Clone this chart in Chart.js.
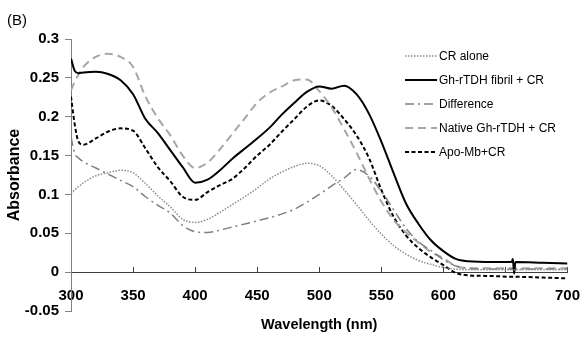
<!DOCTYPE html>
<html>
<head>
<meta charset="utf-8">
<script src="https://cdn.jsdelivr.net/npm/chart.js@4.4.1/dist/chart.umd.min.js"></script>
<style>
  body { margin: 0; background: #fff; }
  #wrap { position: relative; width: 584px; height: 337px; }
  #legend { position: absolute; left: 405px; top: 44px; font: 12px "Liberation Sans", Arial, sans-serif; color: #000; }
  #legend .row { height: 23.9px; display: flex; align-items: center; white-space: nowrap; }
  #legend svg { margin-right: 2px; }
</style>
</head>
<body>
<div id="wrap">
  <canvas id="chart" width="584" height="337"></canvas>
  <div id="legend"></div>
</div>
<script>
// wavelength grid (nm) shared by all spectra
const wavelengths = [300, 303, 306, 310, 320, 330, 340, 350, 360, 370, 380, 390, 400, 410, 420, 430, 440, 450, 460, 470, 480, 490,
  500, 510, 520, 530, 540, 550, 560, 570, 580, 590, 600, 610, 620, 640, 655, 656, 657, 658, 680, 700];

// absorbance values
const crAlone = [0.101, 0.106, 0.110, 0.115, 0.124, 0.128, 0.131, 0.128, 0.114, 0.098, 0.084, 0.068, 0.064, 0.068, 0.077, 0.087, 0.097, 0.108, 0.120, 0.129, 0.136, 0.140,
  0.137, 0.124, 0.106, 0.087, 0.067, 0.049, 0.034, 0.023, 0.015, 0.010, 0.006, 0.004, 0.003, 0.003, 0.003, 0.003, 0.003, 0.003, 0.003, 0.003];
const fibrilCR = [0.275, 0.259, 0.256, 0.257, 0.258, 0.255, 0.247, 0.229, 0.197, 0.179, 0.157, 0.135, 0.115, 0.119, 0.131, 0.146, 0.159, 0.172, 0.186, 0.203, 0.218, 0.232,
  0.239, 0.236, 0.240, 0.229, 0.204, 0.168, 0.127, 0.088, 0.062, 0.041, 0.027, 0.017, 0.014, 0.013, 0.013, 0.017, -0.002, 0.013, 0.012, 0.011];
const difference = [0.174, 0.153, 0.147, 0.142, 0.134, 0.126, 0.118, 0.110, 0.097, 0.086, 0.076, 0.060, 0.052, 0.051, 0.054, 0.058, 0.062, 0.066, 0.070, 0.075, 0.081, 0.090,
  0.100, 0.111, 0.121, 0.132, 0.124, 0.104, 0.080, 0.056, 0.039, 0.028, 0.016, 0.008, 0.005, 0.004, 0.004, 0.004, 0.004, 0.004, 0.004, 0.004];
const nativeCR = [0.234, 0.245, 0.254, 0.264, 0.277, 0.281, 0.277, 0.264, 0.226, 0.198, 0.176, 0.150, 0.134, 0.141, 0.158, 0.178, 0.198, 0.218, 0.231, 0.239, 0.247, 0.248,
  0.233, 0.212, 0.184, 0.154, 0.121, 0.091, 0.067, 0.051, 0.038, 0.026, 0.018, 0.008, 0.005, 0.005, 0.005, 0.005, 0.005, 0.005, 0.005, 0.005];
const apoMbCR = [0.226, 0.190, 0.168, 0.164, 0.172, 0.181, 0.185, 0.182, 0.159, 0.135, 0.117, 0.097, 0.093, 0.103, 0.112, 0.120, 0.134, 0.150, 0.164, 0.181, 0.197, 0.213,
  0.221, 0.214, 0.197, 0.176, 0.147, 0.106, 0.071, 0.047, 0.031, 0.019, 0.009, -0.001, -0.004, -0.005, -0.006, -0.006, -0.006, -0.006, -0.007, -0.008];

const series = [
  { label: 'CR alone', values: crAlone, color: '#8c8c8c', width: 1.5, dash: [1.5, 1.5] },
  { label: 'Gh-rTDH fibril + CR', values: fibrilCR, color: '#000000', width: 2, dash: [] },
  { label: 'Difference', values: difference, color: '#808080', width: 1.5, dash: [9, 4, 2, 4] },
  { label: 'Native Gh-rTDH + CR', values: nativeCR, color: '#a6a6a6', width: 2, dash: [8, 5] },
  { label: 'Apo-Mb+CR', values: apoMbCR, color: '#000000', width: 2, dash: [4, 2.5] }
];

const fontFamily = '"Liberation Sans", Arial, sans-serif';
const boldFont = { family: fontFamily, weight: 'bold', size: 15 };

const chart = new Chart(document.getElementById('chart'), {
  type: 'line',
  data: {
    datasets: series.map(s => ({
      label: s.label,
      data: wavelengths.map((w, i) => ({ x: w, y: s.values[i] })),
      borderColor: s.color,
      borderWidth: s.width,
      borderDash: s.dash,
      pointRadius: 0,
      fill: false,
      cubicInterpolationMode: 'monotone'
    }))
  },
  options: {
    responsive: false,
    animation: false,
    layout: { padding: { left: 7, right: 0, top: 0, bottom: 0 } },
    plugins: {
      legend: { display: false },
      tooltip: { enabled: false },
      title: {
        display: true,
        text: '(B)',
        align: 'start',
        color: '#000',
        font: { family: fontFamily, size: 15, weight: 'normal' },
        padding: { top: 11.5, bottom: 9.5 }
      },
      subtitle: {
        display: true,
        text: 'Wavelength (nm)',
        position: 'bottom',
        fullSize: false,
        color: '#000',
        font: { family: fontFamily, size: 14.5, weight: 'bold' },
        padding: { top: 5.3, bottom: 3.3 }
      }
    },
    scales: {
      // axis line + labels at y = 0; tickLength only pushes labels down
      x: {
        type: 'linear',
        position: { y: 0 },
        min: 300,
        max: 700,
        afterFit: scale => { scale.height = 0; },
        border: { color: '#404040', width: 1 },
        grid: { display: false, drawTicks: true, tickLength: 11 },
        ticks: { stepSize: 50, color: '#000', font: boldFont, padding: 4, maxRotation: 0 }
      },
      // second x axis only for the small tick marks pointing up
      xTicks: {
        type: 'linear',
        axis: 'x',
        position: { y: 0 },
        min: 300,
        max: 700,
        afterFit: scale => { scale.height = 0; },
        border: { display: false },
        grid: { drawOnChartArea: false, drawTicks: true, tickLength: -5, color: '#404040' },
        ticks: { stepSize: 50, display: false, padding: 0 }
      },
      y: {
        min: -0.05,
        max: 0.3,
        afterFit: scale => { scale.width = 64; },
        border: { color: '#808080', width: 1 },
        grid: { drawOnChartArea: false, drawTicks: true, tickLength: 6, color: '#808080' },
        ticks: {
          stepSize: 0.05,
          color: '#000',
          font: boldFont,
          padding: 6,
          callback: v => String(+v.toFixed(2))
        },
        title: {
          display: true,
          text: 'Absorbance',
          color: '#000',
          font: { family: fontFamily, size: 16, weight: 'bold' },
          padding: { top: -2, bottom: 0 }
        }
      }
    }
  }
});

// legend with line samples, placed inside the plot like the original
const legend = document.getElementById('legend');
series.forEach(s => {
  const row = document.createElement('div');
  row.className = 'row';
  row.innerHTML = `<svg width="32" height="6"><line x1="0" y1="3" x2="32" y2="3" stroke="${s.color}"
    stroke-width="${s.width}" stroke-dasharray="${s.dash.join(',') || 'none'}"/></svg><span>${s.label}</span>`;
  legend.appendChild(row);
});
</script>
</body>
</html>
